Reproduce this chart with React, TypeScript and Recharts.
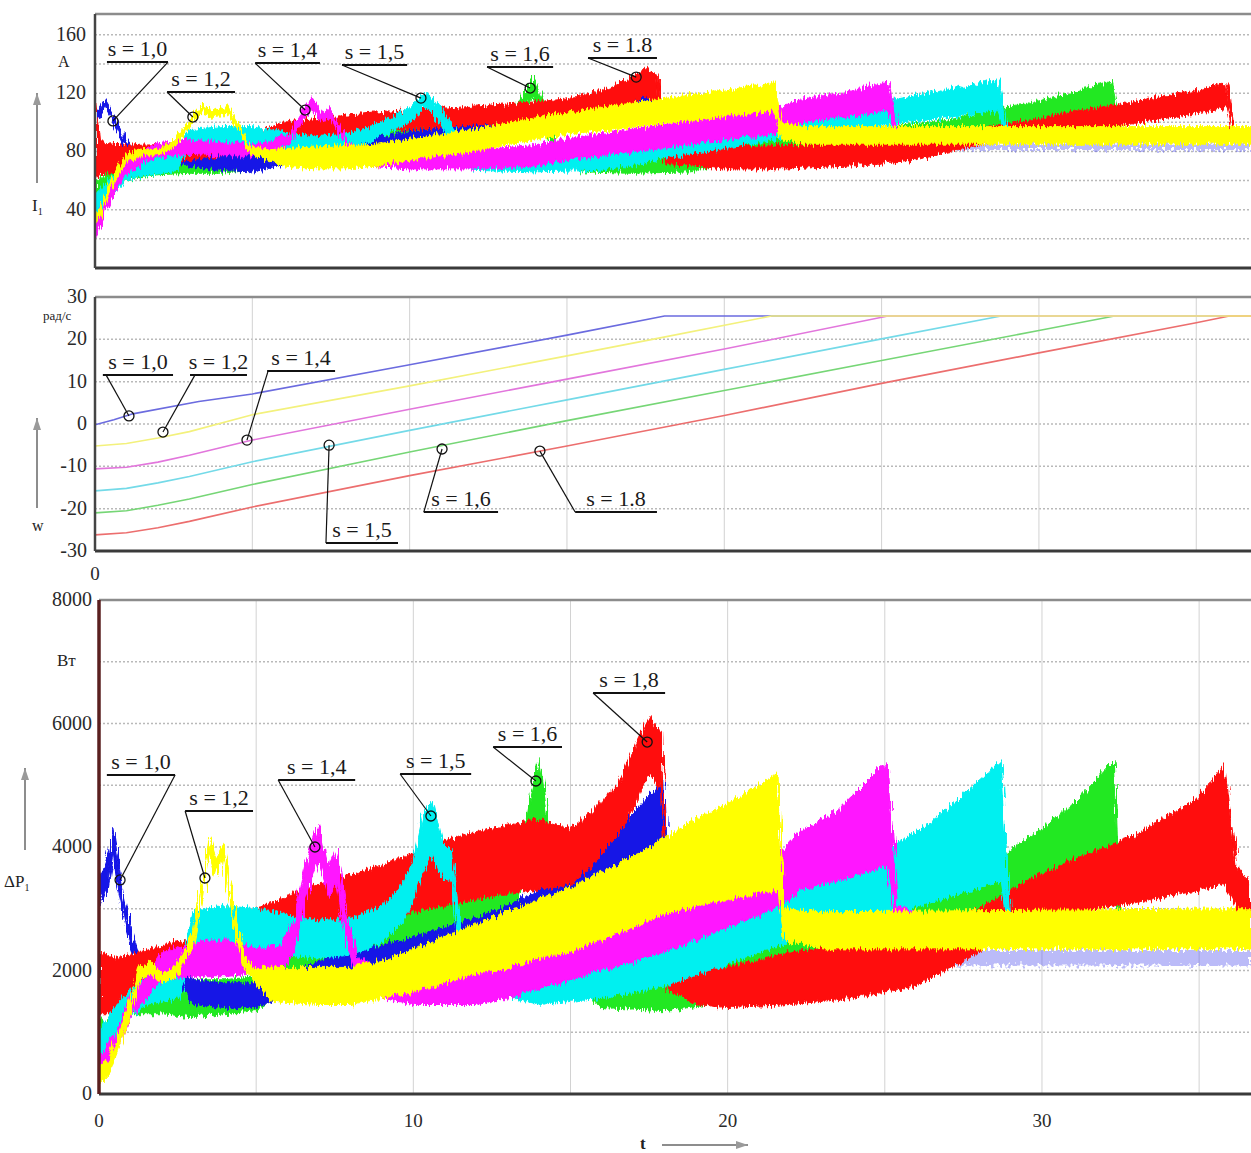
import React from 'react';
import {
  ComposedChart,
  Area,
  Line,
  XAxis,
  YAxis,
  CartesianGrid,
  ReferenceLine,
  ReferenceDot,
} from 'recharts';

const FONT = '"Liberation Serif", "Times New Roman", Times, serif';

// ---------- axes ----------
const TOP_T_MAX = 36.74;
const BOT_T_MAX = 36.65;
const T_GRID = [5, 10, 15, 20, 25, 30, 35];
const MID_T_TICKS = [0];
const BOT_T_TICKS = [0, 10, 20, 30];

const I1_MAX = 174.3;
const I1_TICKS = [0, 40, 80, 120, 160];
const I1_GRID = [20, 40, 60, 80, 100, 120, 140, 160];

const W_TICKS = [-30, -20, -10, 0, 10, 20, 30];
const W_GRID = [-20, -10, 0, 10, 20];

const P_TICKS = [0, 2000, 4000, 6000, 8000];
const P_GRID = [1000, 2000, 3000, 4000, 5000, 6000, 7000];

// ---------- I1 (A): [t, low, high] noise envelope ----------
const i1Blue = [
  [0, 100, 106], [0.16, 104, 110], [0.32, 111, 116], [0.48, 104, 110], [0.7, 94, 100], [0.9, 85, 91],
  [1.1, 79, 84], [1.4, 77, 82], [2.0, 76, 82], [2.5, 74, 81], [3, 70, 79], [4, 67, 78], [5, 66, 77],
  [6, 71, 80], [7, 75, 84], [8, 77, 86], [9, 80, 89], [10, 85, 94], [11, 87, 96], [12, 88, 98],
  [13, 90, 100], [14, 92, 103], [15, 96, 108], [16, 100, 113], [17, 104, 118], [17.9, 108, 123], [18.05, 84, 89],
];
const i1BlueTail = [[18.05, 81, 86], [22, 81, 86], [27, 81, 86], [32, 81, 86], [36.74, 81, 86]];
const i1Yellow = [
  [0, 30, 36], [0.2, 36, 42], [0.5, 53, 59], [0.8, 67, 72], [1.0, 73, 78], [1.5, 77, 82], [2.0, 77, 81],
  [2.5, 83, 88], [3.0, 96, 101], [3.4, 108, 113], [3.8, 102, 107], [4.2, 107, 112], [4.6, 93, 98],
  [4.9, 79, 84], [5.5, 74, 81], [6, 70, 82], [7, 68, 83], [8, 68, 84], [9, 70, 85], [10, 74, 89],
  [11, 77, 92], [12, 80, 95], [13, 84, 99], [14, 88, 103], [15, 92, 107], [16, 94, 110], [17, 96, 113],
  [18, 99, 116], [19, 101, 119], [20, 104, 122], [21, 106, 125], [21.6, 108, 127], [21.8, 88, 100],
  [22.5, 85, 97], [36.74, 85, 97],
];
const i1Magenta = [
  [0, 20, 34], [0.3, 35, 47], [0.5, 46, 56], [1.0, 64, 74], [1.5, 72, 81], [2, 76, 86], [3, 78, 88],
  [4, 77, 86], [5, 77, 85], [5.7, 80, 87], [6.2, 86, 93], [6.6, 101, 108], [6.9, 110, 117], [7.2, 100, 106],
  [7.5, 103, 109], [7.8, 90, 96], [8.1, 80, 86], [8.6, 70, 80], [10, 68, 81], [12, 68, 81], [14, 70, 84],
  [15, 74, 89], [16, 77, 92], [18, 82, 98], [20, 88, 104], [21.7, 92, 110], [22.5, 100, 116], [24, 104, 121],
  [25.2, 108, 128], [25.5, 88, 97], [27, 86, 95], [36.74, 86, 95],
];
const i1Cyan = [
  [0, 35, 52], [0.5, 48, 62], [1, 60, 72], [1.5, 63, 75], [2.5, 66, 78], [3, 80, 95], [4, 82, 97], [5, 82, 97],
  [6, 81, 93], [7, 80, 90], [8, 82, 92], [8.6, 86, 96], [9.4, 93, 103], [10, 100, 110], [10.5, 110, 121],
  [10.8, 104, 115], [11.2, 92, 102], [11.6, 78, 90], [12, 67, 80], [14, 66, 79], [16, 67, 81], [17, 70, 84],
  [18, 75, 88], [20, 82, 95], [21.7, 88, 101], [23, 93, 107], [25, 98, 114], [27, 103, 122], [28.7, 108, 129],
  [29, 88, 96], [30, 86, 95], [36.74, 86, 95],
];
const i1Green = [
  [0, 42, 60], [0.5, 52, 66], [1, 60, 72], [2, 64, 78], [3, 65, 79], [4, 65, 80], [5, 67, 81], [6, 72, 86],
  [7, 76, 90], [8, 80, 94], [9, 83, 97], [10, 86, 99], [11, 88, 101], [12, 89, 103], [13, 92, 106],
  [13.5, 100, 115], [13.9, 118, 131], [14.3, 100, 112], [14.7, 75, 88], [15.5, 66, 79], [17, 65, 78],
  [19, 66, 80], [20, 72, 85], [22, 78, 90], [25, 84, 97], [27, 88, 101], [29, 93, 110], [30.5, 97, 117],
  [32.3, 104, 128], [32.6, 88, 96], [36.74, 86, 95],
];
const i1Red = [
  [0, 62, 120], [0.15, 64, 86], [1, 66, 84], [1.5, 70, 85], [3, 74, 86], [5, 80, 92], [6, 88, 100],
  [8, 91, 105], [10, 95, 108], [12, 98, 111], [14, 100, 114], [15, 102, 116], [16, 106, 121], [17, 112, 130],
  [17.5, 118, 137], [17.9, 112, 132], [18.1, 72, 84], [20, 68, 83], [22, 68, 84], [24, 70, 85], [26, 74, 88],
  [28, 84, 96], [29.6, 90, 101], [31, 94, 107], [33, 99, 114], [35, 106, 122], [36, 110, 127], [36.2, 89, 96],
  [36.74, 88, 95],
];

// ---------- w (rad/s): [t, value] ----------
const wBlue = [[0, -0.2], [0.6, 1.0], [1.2, 2.4], [3.3, 5.3], [5, 7.1], [10, 14.0], [15, 21.0], [18.1, 25.5], [36.74, 25.5]];
const wYellow = [[0, -5.2], [1, -4.6], [2, -3.3], [3, -1.8], [5, 2.2], [10, 9.0], [15, 16.1], [18, 20.4], [21.5, 25.5], [36.74, 25.5]];
const wMagenta = [[0, -10.6], [1, -10.2], [2, -9.0], [3, -7.4], [5, -3.8], [10, 3.5], [15, 10.6], [20, 17.7], [25.2, 25.5], [36.74, 25.5]];
const wCyan = [[0, -15.8], [1, -15.2], [2, -13.9], [3, -12.4], [5, -8.9], [10, -1.5], [15, 5.7], [20, 12.9], [25, 20.1], [28.8, 25.5], [36.74, 25.5]];
const wGreen = [[0, -21.0], [1, -20.5], [2, -19.2], [3, -17.7], [5, -14.3], [10, -6.6], [15, 0.8], [20, 7.9], [25, 15.0], [30, 22.1], [32.4, 25.5], [36.74, 25.5]];
const wRed = [[0, -26.2], [1, -25.7], [2, -24.5], [3, -23.0], [5, -19.6], [10, -12.2], [15, -5.2], [20, 2.0], [25, 9.6], [30, 16.8], [35, 23.9], [36.05, 25.5], [36.74, 25.5]];

// ---------- ΔP1 (W): [t, low, high] ----------
const pBlue = [
  [0, 3000, 3500], [0.3, 3400, 3900], [0.45, 3900, 4320], [0.6, 3300, 3800], [0.8, 2800, 3200], [1.0, 2400, 2700],
  [1.3, 2000, 2200], [1.8, 1950, 2150], [2.5, 1800, 2100], [3, 1450, 1850], [4, 1400, 1800], [5, 1400, 1800],
  [5.5, 1500, 1950], [6.5, 1600, 2050], [7.5, 1850, 2250], [9, 2000, 2400], [10, 2150, 2550], [11, 2250, 2700],
  [12, 2350, 2850], [13, 2550, 3050], [14, 2800, 3300], [15, 3050, 3650], [16, 3300, 4100], [17, 3550, 4550],
  [18, 3800, 5100], [18.15, 2250, 2500],
];
const pBlueTail = [[18.15, 2080, 2330], [22, 2080, 2330], [27, 2080, 2330], [32, 2080, 2330], [36.65, 2080, 2330]];
const pYellow = [
  [0, 150, 450], [0.3, 300, 550], [0.6, 700, 950], [1.0, 1300, 1550], [1.3, 1850, 2050], [1.6, 1950, 2150],
  [2.0, 1800, 1950], [2.5, 1900, 2100], [3.0, 2400, 2650], [3.3, 3200, 3450], [3.5, 3900, 4150], [3.7, 3550, 3800],
  [3.95, 3800, 4050], [4.3, 2700, 2950], [4.6, 2050, 2250], [4.9, 1850, 2050], [5.5, 1500, 2050], [7, 1450, 2050],
  [8, 1450, 2050], [9, 1550, 2150], [10, 1650, 2350], [11, 1800, 2550], [12, 1950, 2750], [13, 2050, 2950],
  [14, 2200, 3150], [15, 2300, 3350], [16, 2500, 3600], [17, 2700, 3850], [18, 2900, 4150], [19, 3050, 4450],
  [20, 3150, 4700], [21, 3250, 5000], [21.6, 3300, 5200], [21.8, 2500, 3000], [23, 2350, 2950], [36.65, 2350, 3000],
];
const pMagenta = [
  [0, 150, 600], [0.5, 600, 950], [1, 1250, 1600], [1.5, 1550, 1900], [2, 1850, 2300], [3, 1900, 2450],
  [4, 1900, 2500], [5, 1950, 2350], [5.8, 2000, 2400], [6.2, 2300, 2850], [6.6, 3200, 3750], [7.0, 3800, 4400],
  [7.3, 3200, 3650], [7.55, 3400, 3950], [7.9, 2400, 2850], [8.2, 1900, 2200], [9, 1550, 2050], [10, 1450, 2150],
  [12, 1450, 2200], [13, 1550, 2300], [14, 1700, 2400], [15, 1850, 2550], [16, 2000, 2700], [18, 2300, 2950],
  [20, 2700, 3400], [21.7, 3050, 3900], [22.3, 3300, 4250], [23.5, 3450, 4600], [25.1, 3700, 5400],
  [25.4, 2700, 3050], [26, 2500, 2950], [36.65, 2450, 2950],
];
const pCyan = [
  [0, 500, 1000], [0.5, 900, 1400], [1, 1250, 1700], [1.5, 1450, 1900], [2.5, 1550, 2000], [3, 2200, 2950],
  [4, 2300, 3050], [5, 2250, 3000], [6, 2250, 2900], [7, 2200, 2800], [8, 2250, 2850], [9, 2450, 3050],
  [9.6, 2750, 3350], [10, 3100, 3800], [10.3, 3600, 4500], [10.6, 3900, 4760], [10.9, 3500, 4100], [11.2, 3450, 3950],
  [11.5, 2300, 2700], [12, 1700, 2300], [14, 1450, 2200], [16, 1550, 2300], [17, 1650, 2400], [18, 1750, 2550],
  [20, 2100, 2950], [21.5, 2380, 3250], [23, 2650, 3600], [25, 2900, 3950], [26.5, 3100, 4400], [28.7, 3450, 5400],
  [29, 2500, 2900], [36.65, 2450, 2950],
];
const pGreen = [
  [0, 600, 1300], [0.3, 550, 1100], [1, 1300, 1700], [2, 1300, 1850], [3, 1250, 1850], [4, 1300, 1850],
  [5, 1350, 1900], [6, 1700, 2300], [7, 1900, 2600], [8, 2100, 2800], [9, 2300, 3000], [10, 2500, 3150],
  [11, 2550, 3250], [12, 2650, 3350], [13, 2800, 3500], [13.4, 3200, 3900], [13.7, 3900, 4800], [14.0, 4400, 5450],
  [14.3, 3600, 4500], [14.6, 2500, 3200], [15, 1800, 2300], [16, 1400, 2000], [18, 1350, 2000], [19.5, 1450, 2100],
  [21, 1800, 2400], [23, 2200, 2900], [25.5, 2600, 3300], [27, 2850, 3550], [28.9, 3000, 3900], [30, 3150, 4300],
  [31, 3250, 4700], [32.3, 3400, 5400], [32.5, 2500, 2900], [36.65, 2450, 2950],
];
const pRed = [
  [0, 1300, 2300], [0.5, 1300, 2200], [1, 1350, 2250], [1.3, 1500, 2300], [2, 1800, 2400], [3, 1950, 2550],
  [4, 2100, 2750], [5, 2300, 3000], [6, 2500, 3200], [7, 2600, 3400], [8, 2700, 3550], [9, 2850, 3700],
  [10, 2950, 3900], [11, 3050, 4100], [12, 3150, 4250], [13, 3250, 4350], [14, 3300, 4450], [15, 3400, 4300],
  [15.5, 3600, 4500], [16.5, 4200, 5000], [17.2, 4800, 5800], [17.5, 5200, 6100], [17.9, 4900, 5850],
  [18.1, 1700, 2400], [19, 1450, 2100], [20, 1400, 2050], [22, 1450, 2300], [24, 1550, 2400], [26, 1750, 2600],
  [28, 2300, 3000], [29.5, 2800, 3450], [31, 2950, 3800], [33, 3100, 4200], [35, 3300, 4800], [35.8, 3400, 5350],
  [36.2, 3000, 3700], [36.65, 2850, 3400],
];

// ---------- annotations (data coordinates) ----------
const topNotes = [
  { text: 's = 1,0', x1: 0.38, x2: 2.32, y: 141.3, lx: 2.32, cx: 0.57, cy: 100.9 },
  { text: 's = 1,2', x1: 2.29, x2: 4.45, y: 120.8, lx: 2.29, cx: 3.11, cy: 103.6 },
  { text: 's = 1,4', x1: 5.09, x2: 7.15, y: 140.6, lx: 5.09, cx: 6.68, cy: 108.4 },
  { text: 's = 1,5', x1: 7.85, x2: 9.92, y: 139.3, lx: 7.85, cx: 10.36, cy: 116.6 },
  { text: 's = 1,6', x1: 12.46, x2: 14.56, y: 137.9, lx: 12.46, cx: 13.83, cy: 123.5 },
  { text: 's = 1.8', x1: 15.67, x2: 17.86, y: 144.1, lx: 15.67, cx: 17.2, cy: 131.0 },
];
const midNotes = [
  { text: 's = 1,0', x1: 0.25, x2: 2.48, y: 11.6, lx: 0.35, cx: 1.08, cy: 1.9 },
  { text: 's = 1,2', x1: 3.02, x2: 4.83, y: 11.6, lx: 3.18, cx: 2.16, cy: -1.9 },
  { text: 's = 1,4', x1: 5.47, x2: 7.63, y: 12.5, lx: 5.5, cx: 4.83, cy: -3.8 },
  { text: 's = 1,5', x1: 7.34, x2: 9.63, y: -28.1, lx: 7.34, cx: 7.44, cy: -5.0 },
  { text: 's = 1,6', x1: 10.45, x2: 12.81, y: -20.8, lx: 10.45, cx: 11.03, cy: -5.9 },
  { text: 's = 1.8', x1: 15.26, x2: 17.86, y: -20.8, lx: 15.26, cx: 14.14, cy: -6.4 },
];
const botNotes = [
  { text: 's = 1,0', x1: 0.25, x2: 2.42, y: 5166, lx: 2.42, cx: 0.67, cy: 3466 },
  { text: 's = 1,2', x1: 2.74, x2: 4.9, y: 4583, lx: 2.74, cx: 3.37, cy: 3498 },
  { text: 's = 1,4', x1: 5.7, x2: 8.15, y: 5085, lx: 5.7, cx: 6.87, cy: 4000 },
  { text: 's = 1,5', x1: 9.58, x2: 11.84, y: 5182, lx: 9.58, cx: 10.56, cy: 4502 },
  { text: 's = 1,6', x1: 12.54, x2: 14.73, y: 5619, lx: 12.54, cx: 13.9, cy: 5069 },
  { text: 's = 1,8', x1: 15.72, x2: 18.01, y: 6494, lx: 15.72, cx: 17.44, cy: 5700 },
];

// ---------- styles ----------
const ORDER = ['blueTail', 'green', 'blue', 'red', 'cyan', 'magenta', 'yellow'];
const BAND_COLORS: Record<string, string> = {
  blueTail: '#5656ee',
  blue: '#1414e6',
  green: '#22e822',
  cyan: '#00f0f0',
  red: '#ff1010',
  magenta: '#ff12ff',
  yellow: '#ffff00',
};
const W_ORDER = ['blue', 'green', 'cyan', 'magenta', 'red', 'yellow'];
const W_COLORS: Record<string, string> = {
  blue: '#6b6bdf',
  yellow: '#f3f17c',
  magenta: '#e276dc',
  cyan: '#74dae8',
  green: '#76d676',
  red: '#ec6e6e',
};

// merge series into one table keyed by t (no interpolation; missing -> null)
function buildTable(series: Record<string, number[][]>) {
  const ts = new Set<number>();
  Object.values(series).forEach((arr) => arr.forEach((p) => ts.add(p[0])));
  const sorted = Array.from(ts).sort((a, b) => a - b);
  return sorted.map((t) => {
    const row: any = { t };
    for (const [k, arr] of Object.entries(series)) {
      const p = arr.find((q) => q[0] === t);
      row[k] = p ? (p.length === 3 ? [p[1], p[2]] : p[1]) : null;
    }
    return row;
  });
}

const topTable = buildTable({
  blueTail: i1BlueTail, blue: i1Blue, green: i1Green, cyan: i1Cyan, red: i1Red, magenta: i1Magenta, yellow: i1Yellow,
});
const midTable = buildTable({
  blue: wBlue, green: wGreen, cyan: wCyan, magenta: wMagenta, red: wRed, yellow: wYellow,
});
const botTable = buildTable({
  blueTail: pBlueTail, blue: pBlue, green: pGreen, cyan: pCyan, red: pRed, magenta: pMagenta, yellow: pYellow,
});

function YTick(props: any) {
  const { x, y, payload } = props;
  return (
    <text x={x} y={y} dy={6} textAnchor="end" fontFamily={FONT} fontSize={20} fill="#2a2a2a">
      {payload.value}
    </text>
  );
}
function XTick(props: any) {
  const { x, y, payload } = props;
  return (
    <text x={x} y={y} dy={14} textAnchor="middle" fontFamily={FONT} fontSize={19} fill="#2a2a2a">
      {payload.value}
    </text>
  );
}

function renderBands() {
  return ORDER.map((k) => (
    <Area
      key={k}
      dataKey={k}
      type="linear"
      stroke={BAND_COLORS[k]}
      strokeWidth={k === 'blueTail' ? 0 : 1}
      fill={BAND_COLORS[k]}
      fillOpacity={k === 'blueTail' ? 0.4 : 1}
      filter={k === 'blueTail' ? 'url(#tailNoise)' : 'url(#bandNoise)'}
      connectNulls
      dot={false}
      activeDot={false}
      isAnimationActive={false}
    />
  ));
}

function renderNotes(notes: any[]) {
  return notes.flatMap((n, i) => [
    <ReferenceLine
      key={'u' + i}
      segment={[{ x: n.x1, y: n.y }, { x: n.x2, y: n.y }]}
      stroke="#111"
      strokeWidth={2}
      ifOverflow="visible"
    />,
    <ReferenceLine
      key={'l' + i}
      segment={[{ x: n.lx, y: n.y }, { x: n.cx, y: n.cy }]}
      stroke="#111"
      strokeWidth={1.2}
      ifOverflow="visible"
    />,
    <ReferenceDot
      key={'c' + i}
      x={n.cx}
      y={n.cy}
      r={5}
      fill="none"
      stroke="#111"
      strokeWidth={1.3}
      ifOverflow="visible"
    />,
    <ReferenceDot
      key={'t' + i}
      x={(n.x1 + n.x2) / 2}
      y={n.y}
      r={1}
      ifOverflow="visible"
      shape={(p: any) => (
        <text
          x={p.cx}
          y={p.cy - 6}
          textAnchor="middle"
          fontFamily={FONT}
          fontSize={22}
          fill="#1a1a1a"
        >
          {n.text}
        </text>
      )}
    />,
  ]);
}

function Arrow({ x1, y1, x2, y2 }: { x1: number; y1: number; x2: number; y2: number }) {
  const vertical = x1 === x2;
  const head = vertical
    ? `${x2},${y2} ${x2 - 4},${y2 + 12} ${x2 + 4},${y2 + 12}`
    : `${x2},${y2} ${x2 - 12},${y2 - 4} ${x2 - 12},${y2 + 4}`;
  return (
    <g>
      <line x1={x1} y1={y1} x2={x2} y2={y2} stroke="#8d8d8d" strokeWidth={2} />
      <polygon points={head} fill="#9a9a9a" />
    </g>
  );
}

export default function App() {
  return (
    <div
      style={{
        position: 'absolute',
        left: 0,
        top: 0,
        width: 1251,
        height: 1153,
        overflow: 'hidden',
        background: '#fff',
        fontFamily: FONT,
      }}
    >
      {/* texture filters for the noisy traces */}
      <svg width={0} height={0} style={{ position: 'absolute' }}>
        <defs>
          <filter id="bandNoise" x="-1%" y="-15%" width="102%" height="130%">
            <feTurbulence type="fractalNoise" baseFrequency="0.55 0.04" numOctaves={2} seed={5} result="n" />
            <feDisplacementMap in="SourceGraphic" in2="n" scale={11} xChannelSelector="R" yChannelSelector="G" />
          </filter>
          <filter id="tailNoise" x="-1%" y="-50%" width="102%" height="200%">
            <feTurbulence type="fractalNoise" baseFrequency="0.35 0.3" numOctaves={1} seed={9} result="n" />
            <feDisplacementMap in="SourceGraphic" in2="n" scale={14} xChannelSelector="R" yChannelSelector="G" />
          </filter>
        </defs>
      </svg>

      {/* ---------- top: I1 ---------- */}
      <div style={{ position: 'absolute', left: 0, top: 0 }}>
        <ComposedChart width={1251} height={272} data={topTable} margin={{ top: 14, right: 0, bottom: 0, left: 0 }}>
          <CartesianGrid vertical={false} horizontalValues={I1_GRID} stroke="#b9b9b9" strokeDasharray="2 2" strokeWidth={1.5} />
          <CartesianGrid horizontal={false} verticalValues={T_GRID} stroke="#d2d2d2" />
          <XAxis
            dataKey="t"
            type="number"
            domain={[0, TOP_T_MAX]}
            allowDataOverflow
            height={4}
            tick={false}
            tickLine={false}
            axisLine={{ stroke: '#3a3a3a', strokeWidth: 3 }}
          />
          <YAxis
            type="number"
            domain={[0, I1_MAX]}
            allowDataOverflow
            ticks={I1_TICKS}
            width={95}
            tickLine={false}
            tickSize={6}
            tickMargin={3}
            tick={<YTick />}
            axisLine={{ stroke: '#444', strokeWidth: 2.5 }}
          />
          <ReferenceLine y={I1_MAX} stroke="#8c8c8c" strokeWidth={2.5} />
          {renderBands()}
          {renderNotes(topNotes)}
        </ComposedChart>
      </div>

      {/* ---------- middle: w ---------- */}
      <div style={{ position: 'absolute', left: 0, top: 283 }}>
        <ComposedChart width={1251} height={303} data={midTable} margin={{ top: 14, right: 0, bottom: 0, left: 0 }}>
          <CartesianGrid vertical={false} horizontalValues={W_GRID} stroke="#b9b9b9" strokeDasharray="2 2" strokeWidth={1.5} />
          <CartesianGrid horizontal={false} verticalValues={T_GRID} stroke="#d2d2d2" />
          <XAxis
            dataKey="t"
            type="number"
            domain={[0, TOP_T_MAX]}
            allowDataOverflow
            ticks={MID_T_TICKS}
            height={35}
            tickLine={false}
            tickSize={6}
            tickMargin={9}
            tick={<XTick />}
            axisLine={{ stroke: '#3a3a3a', strokeWidth: 3 }}
          />
          <YAxis
            type="number"
            domain={[-30, 30]}
            allowDataOverflow
            ticks={W_TICKS}
            width={95}
            tickLine={false}
            tickSize={6}
            tickMargin={2}
            tick={<YTick />}
            axisLine={{ stroke: '#444', strokeWidth: 2.5 }}
          />
          <ReferenceLine y={30} stroke="#8c8c8c" strokeWidth={2.5} />
          {W_ORDER.map((k) => (
            <Line
              key={k}
              dataKey={k}
              type="linear"
              stroke={W_COLORS[k]}
              strokeWidth={1.6}
              dot={false}
              activeDot={false}
              connectNulls
              isAnimationActive={false}
            />
          ))}
          {renderNotes(midNotes)}
        </ComposedChart>
      </div>

      {/* ---------- bottom: ΔP1 ---------- */}
      <div style={{ position: 'absolute', left: 0, top: 580 }}>
        <ComposedChart width={1251} height={573} data={botTable} margin={{ top: 20, right: 0, bottom: 0, left: 0 }}>
          <CartesianGrid vertical={false} horizontalValues={P_GRID} stroke="#b9b9b9" strokeDasharray="2 2" strokeWidth={1.5} />
          <CartesianGrid horizontal={false} verticalValues={T_GRID} stroke="#d2d2d2" />
          <XAxis
            dataKey="t"
            type="number"
            domain={[0, BOT_T_MAX]}
            allowDataOverflow
            ticks={BOT_T_TICKS}
            height={59}
            tickLine={false}
            tickSize={6}
            tickMargin={13}
            tick={<XTick />}
            axisLine={{ stroke: '#3a3a3a', strokeWidth: 3 }}
          />
          <YAxis
            type="number"
            domain={[0, 8000]}
            allowDataOverflow
            ticks={P_TICKS}
            width={99}
            tickLine={false}
            tickSize={6}
            tickMargin={1}
            tick={<YTick />}
            axisLine={{ stroke: '#5a1f1f', strokeWidth: 3.5 }}
          />
          <ReferenceLine y={8000} stroke="#8c8c8c" strokeWidth={2.5} />
          {renderBands()}
          {renderNotes(botNotes)}
        </ComposedChart>
      </div>

      {/* ---------- axis captions ---------- */}
      <svg
        width={1251}
        height={1153}
        style={{ position: 'absolute', left: 0, top: 0, pointerEvents: 'none' }}
        fontFamily={FONT}
      >
        <text x={58} y={67} fontSize={16} fill="#222">A</text>
        <Arrow x1={37} y1={183} x2={37} y2={93} />
        <text x={32} y={211} fontSize={17} fill="#222">
          I<tspan fontSize={10} dy={4}>1</tspan>
        </text>

        <text x={43} y={320} fontSize={13} fill="#222">рад/с</text>
        <Arrow x1={37} y1={508} x2={37} y2={418} />
        <text x={32} y={531} fontSize={16} fill="#222">w</text>

        <text x={57} y={666} fontSize={17} fill="#222">Вт</text>
        <Arrow x1={25} y1={850} x2={25} y2={768} />
        <text x={4} y={887} fontSize={17} fill="#222">
          ΔP<tspan fontSize={10} dy={4}>1</tspan>
        </text>

        <text x={640} y={1149} fontSize={17} fontWeight="bold" fill="#222">t</text>
        <Arrow x1={662} y1={1145} x2={748} y2={1145} />
      </svg>
    </div>
  );
}
